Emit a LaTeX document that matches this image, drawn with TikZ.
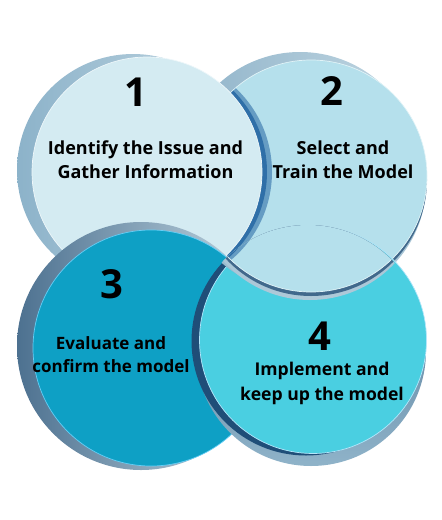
\documentclass[tikz,border=0pt]{standalone}
\usepackage{fontspec}
\setmainfont{Open Sans}
\definecolor{faceone}{HTML}{D4EBF2}
\definecolor{facetwo}{HTML}{B5E0EC}
\definecolor{facethree}{HTML}{0EA0C5}
\definecolor{facefour}{HTML}{4ACFE1}
\definecolor{rimlight}{HTML}{C3D8E3}
\definecolor{rimmid}{HTML}{8FB3C9}
\definecolor{rimdark}{HTML}{4D7190}
\definecolor{rimblue}{HTML}{9CC3D8}
\definecolor{navy}{HTML}{1F4E78}
\definecolor{bandblue}{HTML}{2F6FA8}
\tikzset{
  numtxt/.style={font=\bfseries\fontsize{40}{40}\selectfont, text=black},
  bodytxt/.style={font=\bfseries\fontsize{18}{24}\selectfont, align=center, text=black},
  edgeline/.style={draw=#1, line width=0.7pt},
}
\newcommand{\disctwolayers}{%
  \shade[left color=rimmid, right color=rimlight] (300,172) circle (120);
  \shade[top color=rimmid, bottom color=rimlight!60!rimmid] (310,184) circle (116);
  \fill[navy!85] (311,180) circle (116);
  \fill[facetwo] (311,176) circle (116);
  \begin{scope}
    \clip (311,176) circle (116);
    \fill[bandblue!60!facetwo] (157,172) circle (115);
    \fill[bandblue] (152,172) circle (115);
  \end{scope}
  \draw[edgeline=white!60!facetwo] (311,176) circle (116);
}
\begin{document}
\begin{tikzpicture}[x=1pt,y=-1pt]
\useasboundingbox (0,0) rectangle (442,520);
% disc 2
\disctwolayers
% disc 1
\shade[left color=rimblue!80!rimdark, right color=rimlight] (133,170) circle (116);
\fill[faceone] (147,172) circle (115);
\draw[edgeline=white!60!faceone] (147,172) circle (115);
% disc 3
\shade[left color=rimdark, right color=rimlight] (141,346) circle (124);
\fill[facethree] (151,348) circle (118);
\draw[edgeline=cyan!60!white] (151,348) circle (118);
% disc 4
\shade[top color=rimdark, bottom color=rimmid] (311,351) circle (115);
\fill[navy] (306,341) circle (114.5);
\fill[facefour] (313,340) circle (113.5);
\draw[edgeline=cyan!30!white] (313,340) circle (113.5);
% disc 2 again, over disc 4
\begin{scope}
  \clip (308,343) circle (118);
  \disctwolayers
\end{scope}
% texts
\node[numtxt] (n1) at (136,92) {1};
\node[bodytxt] (t1) at (145.5,160) {Identify the Issue and\\Gather Information};
\node[numtxt] (n2) at (332,91) {2};
\node[bodytxt] (t2) at (343,160) {Select and\\Train the Model};
\node[numtxt] (n3) at (112,284) {3};
\node[bodytxt, font=\bfseries\fontsize{17}{23}\selectfont] (t3) at (111,355) {Evaluate and\\confirm the model};
\node[numtxt] (n4) at (320,336) {4};
\node[bodytxt, font=\bfseries\fontsize{17.6}{25}\selectfont] (t4) at (322,383) {Implement and\\keep up the model};
\end{tikzpicture}
\end{document}
